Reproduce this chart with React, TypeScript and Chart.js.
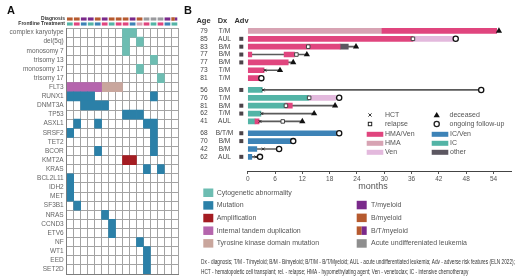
import React, { useEffect, useRef } from "react";
import { Chart, registerables } from "chart.js";

Chart.register(...registerables);

const FONT = "'Liberation Sans', Arial, Helvetica, sans-serif";

// ---------------- Panel A data ----------------
const alterationRows = [
  "complex karyotype", "del(5q)", "monosomy 7", "trisomy 13", "monosomy 17", "trisomy 17",
  "FLT3", "RUNX1", "DNMT3A", "TP53", "ASXL1", "SRSF2", "TET2", "BCOR", "KMT2A", "KRAS",
  "BCL2L11", "IDH2", "MET", "SF3B1", "NRAS", "CCND3", "ETV6", "NF", "WT1", "EED", "SET2D",
];
// one character per patient column: C cytogenetic, M mutation, A amplification, I ITD, T TKD
const alterationCodes = [
  "........CC......",
  "........C.C.....",
  "........C.......",
  "............C...",
  "..........C.....",
  ".............C..",
  "IIIIITTT........",
  "MMMM........M...",
  "..MMMM..........",
  "........MMM.....",
  ".M..M......MM...",
  "M...........M...",
  "............M...",
  "....M.......M...",
  "........AA......",
  "...........M.M..",
  "M...............",
  "M...............",
  "M...............",
  ".M..............",
  ".....M..........",
  "......M.........",
  "......M.........",
  "..........M.....",
  "...........M....",
  "...........M....",
  "...........M....",
];
const diagnosisByColumn = ["B/M", "B/M", "T/M", "T/M", "B/M", "T/M", "B/M", "B/M", "B/M", "T/M", "B/M", "AUL", "AUL", "AUL", "T/M", "B/T/M"];
const frontlineByColumn = ["IC", "HMA/Ven", "IC/Ven", "IC", "IC/Ven", "HMA/Ven", "IC", "HMA/Ven", "HMA/Ven", "IC/Ven", "HMA", "HMA/Ven", "IC", "HMA/Ven", "IC/Ven", "IC"];
const annotationRows = ["Diagnosis", "Frontline Treatment"];
const alterationLegend = [
  ["C", "Cytogenetic abnormality"],
  ["M", "Mutation"],
  ["A", "Amplification"],
  ["I", "Internal tandem duplication"],
  ["T", "Tyrosine kinase domain mutation"],
];
const diagnosisLegend = [
  ["T/M", "T/myeloid"],
  ["B/M", "B/myeloid"],
  ["B/T/M", "B/T/myeloid"],
  ["AUL", "Acute undiffereniated leukemia"],
];

// ---------------- Panel B data ----------------
const ages = [79, 85, 83, 77, 77, 73, 81, 56, 76, 81, 62, 41, 68, 70, 42, 62];
const dxLabels = ["T/M", "AUL", "B/M", "B/M", "B/M", "T/M", "T/M", "B/M", "T/M", "B/M", "T/M", "AUL", "B/T/M", "B/M", "B/M", "AUL"];
const adverseRisk = [0, 1, 1, 1, 1, 0, 0, 1, 0, 1, 1, 0, 1, 1, 0, 1];
const cohort = [0, 0, 0, 0, 0, 0, 0, 1, 1, 1, 1, 1, 2, 2, 2, 2];
const therapySegments: [number, number, number, string][] = [
  [0, 0, 29.5, "HMA"], [0, 29.5, 54.7, "HMA/Ven"],
  [1, 0, 36.3, "HMA/Ven"], [1, 36.3, 45.2, "Ven"],
  [2, 0, 20.3, "HMA/Ven"], [2, 20.3, 22.1, "other"],
  [3, 0, 0.9, "HMA/Ven"], [3, 8.0, 10.3, "HMA/Ven"],
  [4, 0, 8.9, "HMA/Ven"],
  [5, 0, 3.6, "HMA/Ven"],
  [6, 0, 2.8, "HMA/Ven"],
  [7, 0, 3.2, "IC"],
  [8, 0, 13.5, "IC"], [8, 13.5, 19.3, "Ven"],
  [9, 0, 8.4, "IC"], [9, 8.4, 9.8, "HMA/Ven"],
  [10, 0, 2.9, "IC"],
  [11, 0, 1.6, "IC"], [11, 1.6, 2.5, "HMA/Ven"],
  [12, 0, 19.5, "IC/Ven"],
  [13, 0, 9.7, "IC/Ven"],
  [14, 0, 2.0, "IC/Ven"],
  [15, 0, 0.9, "IC/Ven"],
];
const followUpLines: [number, number, number][] = [
  [2, 22.1, 23.8], [3, 0.9, 8.0], [3, 10.3, 13.0], [4, 8.9, 10.0], [5, 3.6, 7.1],
  [7, 3.2, 51.3], [8, 19.3, 20.1], [9, 9.8, 19.2], [10, 2.9, 14.6], [11, 2.5, 12.0],
  [14, 2.0, 6.9], [15, 0.9, 2.7],
];
const hctEvents: [number, number][] = [[5, 3.8], [7, 3.4], [10, 3.1], [11, 2.7], [14, 3.4], [15, 1.8]];
const relapseEvents: [number, number][] = [[1, 36.3], [2, 13.3], [3, 10.7], [8, 13.5], [9, 8.4], [11, 7.7]];
const deceasedEvents: [number, number][] = [[0, 55.2], [2, 23.8], [3, 13.0], [4, 10.0], [5, 7.1], [9, 19.2], [10, 14.6], [11, 12.0]];
const ongoingEvents: [number, number][] = [[1, 45.7], [6, 3.0], [7, 51.3], [8, 20.1], [12, 20.1], [13, 10.0], [14, 6.9], [15, 2.7]];
const monthTicks = [0, 6, 12, 18, 24, 30, 36, 42, 48, 54];
const treatmentLegend = [["HMA/Ven", "HMA", "Ven"], ["IC/Ven", "IC", "other"]];

const footnoteLines = [
  "Dx - diagnosis; T/M - T/myeloid; B/M - B/myeloid; B/T/M - B/T/Myeloid; AUL - acute undifferentiated leukemia; Adv - adverse risk features (ELN 2022);",
  "HCT - hematopoietic cell transplant; rel. - relapse; HMA - hypomethylating agent; Ven - venetoclax; IC - intensive chemotherapy",
];

// ---------------- styles ----------------
const TREAT: Record<string, string> = {
  "HMA/Ven": "#e0457e",
  HMA: "#d7a3b3",
  Ven: "#e3b9dd",
  "IC/Ven": "#3d83b7",
  IC: "#53b4a6",
  other: "#5c5761",
};
const ALT: Record<string, string> = { C: "#6dbdb2", M: "#2b80a8", A: "#a41c22", I: "#b565ad", T: "#c9a69d" };
const DXC: Record<string, string> = { "T/M": "#7a2a8b", "B/M": "#b65a2f", AUL: "#9a9a9e" };

const rowPos = ages.map((_, i) => i + cohort[i] * 0.5);
const nCols = diagnosisByColumn.length;
const colEdges = Array.from({ length: nCols + 1 }, (_, i) => i);

const f = (size: number, weight = "normal") => `${weight} ${size}px ${FONT}`;

const fixedWidth = (w: number) => (s: any) => {
  s.width = w;
  s.paddingTop = 0;
  s.paddingBottom = 0;
};

function makeStrip(canvas: HTMLCanvasElement) {
  const data: any[] = [];
  diagnosisByColumn.forEach((d, i) => {
    if (d === "B/T/M") {
      data.push({ y: annotationRows[0], x: [i, i + 0.5], color: DXC["B/M"], edge: false });
      data.push({ y: annotationRows[0], x: [i + 0.5, i + 1], color: DXC["T/M"], edge: true });
    } else {
      data.push({ y: annotationRows[0], x: [i, i + 1], color: DXC[d], edge: true });
    }
  });
  frontlineByColumn.forEach((t, i) => {
    data.push({ y: annotationRows[1], x: [i, i + 1], color: TREAT[t], edge: true });
  });
  return new Chart(canvas, {
    type: "bar",
    data: {
      labels: annotationRows,
      datasets: [
        {
          data,
          backgroundColor: (c: any) => c.raw?.color,
          borderColor: "#ffffff",
          borderSkipped: false,
          borderWidth: (c: any) => ({ top: 0, bottom: 0, left: 0, right: c.raw?.edge ? 1 : 0 }),
          grouped: false,
          barPercentage: 0.7,
          categoryPercentage: 1,
        } as any,
      ],
    },
    options: {
      indexAxis: "y",
      animation: false,
      responsive: false,
      events: [],
      layout: { padding: { left: 0, right: 6.7, top: 16.5, bottom: 1.5 } },
      plugins: { legend: { display: false }, tooltip: { enabled: false } },
      scales: {
        x: { type: "linear", min: 0, max: nCols, display: false },
        y: {
          type: "category",
          offset: true,
          grid: { display: false, drawTicks: false, tickLength: 0 },
          border: { display: false },
          ticks: { font: { family: FONT, size: 5, weight: "bold" }, color: "#333", padding: 1.7, autoSkip: false },
          afterFit: fixedWidth(66.7),
        } as any,
      },
    },
  } as any);
}

function makeHeatmap(canvas: HTMLCanvasElement) {
  const datasets = alterationLegend.map(([code]) => ({
    data: alterationCodes.flatMap((row, r) =>
      row.split("").flatMap((ch, c) => (ch === code ? [{ y: alterationRows[r], x: [c, c + 1] }] : []))
    ),
    backgroundColor: ALT[code],
    borderWidth: 0,
    grouped: false,
    barPercentage: 1,
    categoryPercentage: 1,
  }));
  return new Chart(canvas, {
    type: "bar",
    data: { labels: alterationRows, datasets: datasets as any },
    options: {
      indexAxis: "y",
      animation: false,
      responsive: false,
      events: [],
      layout: { padding: { left: 0, right: 6.7, top: 28, bottom: 5 } },
      plugins: { legend: { display: false }, tooltip: { enabled: false } },
      scales: {
        x: {
          type: "linear",
          min: 0,
          max: nCols,
          afterBuildTicks: (s: any) => { s.ticks = colEdges.map((v) => ({ value: v })); },
          ticks: { display: false },
          grid: { color: "#a3a3a3", drawTicks: false },
          border: { color: "#7d7d7d" },
          afterFit: (s: any) => { s.height = 0; s.paddingLeft = 0; s.paddingRight = 0; },
        } as any,
        y: {
          type: "category",
          offset: true,
          grid: { offset: true, color: "#a3a3a3", drawTicks: false },
          border: { color: "#7d7d7d" },
          ticks: { font: { family: FONT, size: 6.5 }, color: "#666", padding: 3, autoSkip: false },
          afterFit: fixedWidth(66.7),
        } as any,
      },
    },
  } as any);
}

function drawTriangle(ctx: CanvasRenderingContext2D, x: number, y: number, r: number) {
  ctx.beginPath();
  ctx.moveTo(x, y - r);
  ctx.lineTo(x + r * 0.866, y + r / 2);
  ctx.lineTo(x - r * 0.866, y + r / 2);
  ctx.closePath();
  ctx.fill();
}

const swimmerDecor = {
  id: "swimmerDecor",
  afterDraw(chart: any) {
    const ctx: CanvasRenderingContext2D = chart.ctx;
    const ys = chart.scales.y;
    ctx.save();
    ctx.textBaseline = "middle";

    // panel letters
    ctx.fillStyle = "#111";
    ctx.textAlign = "left";
    ctx.font = f(11, "bold");
    ctx.fillText("A", 7, 10.5);
    ctx.fillText("B", 184, 10.5);

    // table headers
    ctx.fillStyle = "#333";
    ctx.textAlign = "center";
    ctx.font = f(7.5, "bold");
    ctx.fillText("Age", 203.5, 20.5);
    ctx.fillText("Dx", 222.5, 20.5);
    ctx.fillText("Adv", 241.5, 20.5);

    // table rows
    ctx.font = f(6.6);
    ages.forEach((age, i) => {
      const y = ys.getPixelForValue(rowPos[i]);
      ctx.fillStyle = "#444";
      ctx.fillText(String(age), 204, y);
      ctx.fillText(dxLabels[i], 224.5, y);
      if (adverseRisk[i]) {
        ctx.fillStyle = "#4b4349";
        ctx.fillRect(239.3, y - 2, 4, 4);
      }
    });

    // marker legend
    ctx.textAlign = "left";
    ctx.font = f(7);
    const mk = [
      { x: 370, tx: 385, y: 115, label: "HCT", kind: "hct" },
      { x: 370, tx: 385, y: 124, label: "relapse", kind: "rel" },
      { x: 436.7, tx: 449.5, y: 115, label: "deceased", kind: "dec" },
      { x: 436.7, tx: 449.5, y: 124, label: "ongoing follow-up", kind: "ong" },
    ];
    mk.forEach((m) => {
      ctx.strokeStyle = "#222";
      ctx.fillStyle = "#111";
      if (m.kind === "hct") {
        ctx.lineWidth = 0.9;
        ctx.beginPath();
        ctx.moveTo(m.x - 1.6, m.y - 1.6); ctx.lineTo(m.x + 1.6, m.y + 1.6);
        ctx.moveTo(m.x + 1.6, m.y - 1.6); ctx.lineTo(m.x - 1.6, m.y + 1.6);
        ctx.stroke();
      } else if (m.kind === "rel") {
        ctx.lineWidth = 1;
        ctx.strokeRect(m.x - 1.7, m.y - 1.7, 3.4, 3.4);
      } else if (m.kind === "dec") {
        drawTriangle(ctx, m.x, m.y + 0.5, 3.6);
      } else {
        ctx.lineWidth = 1.3;
        ctx.beginPath();
        ctx.arc(m.x, m.y, 2.6, 0, Math.PI * 2);
        ctx.stroke();
      }
      ctx.fillStyle = "#555";
      ctx.fillText(m.label, m.tx, m.y);
    });

    // treatment legend
    treatmentLegend.forEach((col, ci) => {
      col.forEach((t, ri) => {
        const y = 134.3 + ri * 9;
        const sx = ci === 0 ? 366.7 : 431.7;
        ctx.fillStyle = TREAT[t];
        ctx.fillRect(sx, y - 2.5, 16.6, 5);
        ctx.fillStyle = "#555";
        ctx.fillText(t, sx + 18.3, y);
      });
    });

    // months title
    ctx.textAlign = "center";
    ctx.font = f(9);
    ctx.fillStyle = "#555";
    ctx.fillText("months", 373, 186.5);

    // alteration legend
    ctx.textAlign = "left";
    ctx.font = f(7);
    alterationLegend.forEach(([code, label], i) => {
      const y = 192.7 + i * 12.65;
      ctx.fillStyle = ALT[code];
      ctx.fillRect(203.3, y - 4.2, 10, 8.5);
      ctx.fillStyle = "#555";
      ctx.fillText(label, 216.7, y);
    });

    // diagnosis legend
    diagnosisLegend.forEach(([code, label], i) => {
      const y = 205 + i * 12.8;
      if (code === "B/T/M") {
        ctx.fillStyle = DXC["B/M"];
        ctx.fillRect(356.7, y - 4.2, 5, 8.5);
        ctx.fillStyle = DXC["T/M"];
        ctx.fillRect(361.7, y - 4.2, 5, 8.5);
      } else {
        ctx.fillStyle = code === "AUL" ? "#8e8e8e" : DXC[code];
        ctx.fillRect(356.7, y - 4.2, 10, 8.5);
      }
      ctx.fillStyle = "#555";
      ctx.fillText(label, 371, y);
    });

    // footnote (condensed)
    ctx.font = f(8);
    ctx.fillStyle = "#333";
    const w0 = ctx.measureText(footnoteLines[0]).width;
    const sc = 314 / w0;
    footnoteLines.forEach((line, i) => {
      ctx.save();
      ctx.translate(201, 261.3 + i * 10);
      ctx.scale(sc, 1);
      ctx.fillText(line, 0, 0);
      ctx.restore();
    });

    ctx.restore();
  },
};

function makeSwimmer(canvas: HTMLCanvasElement) {
  const treatments = Object.keys(TREAT);
  const barSets = treatments.map((t) => ({
    type: "bar",
    order: 1,
    data: therapySegments.filter((s) => s[3] === t).map(([r, a, b]) => ({ y: rowPos[r], x: [a, b] })),
    backgroundColor: TREAT[t],
    borderWidth: 0,
    grouped: false,
    barThickness: 5,
  }));
  const lineSet = {
    type: "bar",
    order: 2,
    data: followUpLines.map(([r, a, b]) => ({ y: rowPos[r], x: [a, b] })),
    backgroundColor: "#5a5a5a",
    borderWidth: 0,
    grouped: false,
    barThickness: 1,
  };
  const pts = (ev: [number, number][]) => ev.map(([r, m]) => ({ x: m, y: rowPos[r] }));
  const markerSets = [
    { type: "scatter", order: 0, data: pts(relapseEvents), pointStyle: "rect", pointRadius: 2.5, borderWidth: 1, borderColor: "#444", backgroundColor: "#ffffff", clip: false },
    { type: "scatter", order: 0, data: pts(hctEvents), pointStyle: "crossRot", pointRadius: 2, borderWidth: 0.9, borderColor: "#222", backgroundColor: "#222", clip: false },
    { type: "scatter", order: 0, data: pts(deceasedEvents), pointStyle: "triangle", pointRadius: 3.6, borderWidth: 0, backgroundColor: "#111", clip: false },
    { type: "scatter", order: 0, data: pts(ongoingEvents), pointStyle: "circle", pointRadius: 2.6, borderWidth: 1.3, borderColor: "#111", backgroundColor: "#ffffff", clip: false },
  ];
  return new Chart(canvas, {
    type: "bar",
    data: { datasets: [...markerSets, ...barSets, lineSet] as any },
    options: {
      indexAxis: "y",
      animation: false,
      responsive: false,
      events: [],
      layout: { padding: { left: 247.7, right: 8.3, top: 27, bottom: 94 } },
      plugins: { legend: { display: false }, tooltip: { enabled: false } },
      scales: {
        x: {
          type: "linear",
          min: 0,
          max: 58,
          afterBuildTicks: (s: any) => { s.ticks = monthTicks.map((v) => ({ value: v })); },
          grid: { display: true, drawOnChartArea: false, drawTicks: true, tickLength: 3, color: "#555" },
          border: { display: true, color: "#444", width: 1 },
          ticks: { font: { family: FONT, size: 6.5 }, color: "#555", padding: 1, maxRotation: 0, autoSkip: false },
          afterFit: (s: any) => { s.height = 14; },
        } as any,
        y: { type: "linear", reverse: true, min: -0.5, max: 17.8, offset: false, display: false },
      },
    },
    plugins: [swimmerDecor],
  } as any);
}

export default function App() {
  const stripRef = useRef<HTMLCanvasElement>(null);
  const heatRef = useRef<HTMLCanvasElement>(null);
  const swimRef = useRef<HTMLCanvasElement>(null);
  useEffect(() => {
    const charts = [
      makeHeatmap(heatRef.current!),
      makeStrip(stripRef.current!),
      makeSwimmer(swimRef.current!),
    ];
    return () => charts.forEach((c) => c.destroy());
  }, []);
  const abs: React.CSSProperties = { position: "absolute", left: 0, top: 0 };
  return (
    <div style={{ position: "fixed", left: 0, top: 0, width: 520, height: 279, background: "#fff", overflow: "hidden" }}>
      <canvas ref={heatRef} width={185} height={279} style={abs} />
      <canvas ref={stripRef} width={185} height={28} style={abs} />
      <canvas ref={swimRef} width={520} height={279} style={abs} />
    </div>
  );
}
